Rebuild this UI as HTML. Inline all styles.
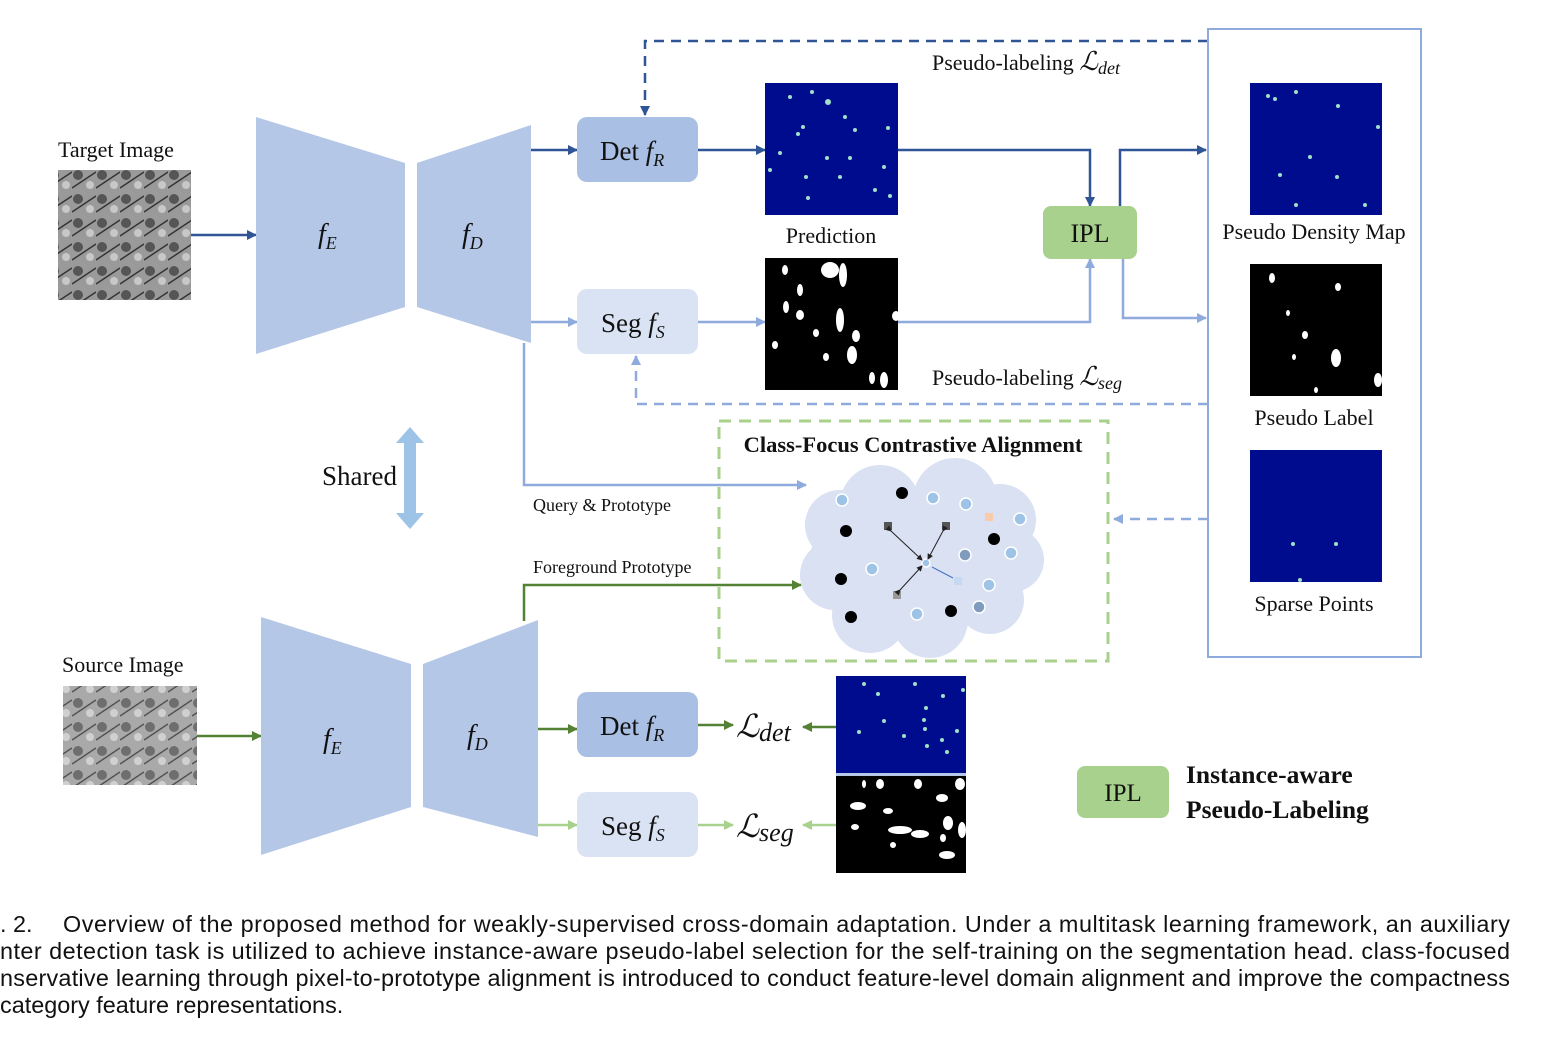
<!DOCTYPE html>
<html><head><meta charset="utf-8"><style>
html,body{margin:0;padding:0;background:#fff;}
svg{display:block;}
.t{font-family:"Liberation Serif",serif;fill:#111;}
.c{font-family:"Liberation Sans",sans-serif;font-size:23.4px;fill:#111;}
</style></head><body>
<svg width="1562" height="1051" viewBox="0 0 1562 1051" xmlns="http://www.w3.org/2000/svg">
<defs>
<marker id="ad" markerWidth="10" markerHeight="10" refX="9" refY="5" orient="auto" markerUnits="userSpaceOnUse"><path d="M0,0 L10,5 L0,10 z" fill="#2f5597"/></marker>
<marker id="al" markerWidth="10" markerHeight="10" refX="9" refY="5" orient="auto" markerUnits="userSpaceOnUse"><path d="M0,0 L10,5 L0,10 z" fill="#8faadc"/></marker>
<marker id="ag" markerWidth="10" markerHeight="10" refX="9" refY="5" orient="auto" markerUnits="userSpaceOnUse"><path d="M0,0 L10,5 L0,10 z" fill="#548235"/></marker>
<marker id="alg" markerWidth="10" markerHeight="10" refX="9" refY="5" orient="auto" markerUnits="userSpaceOnUse"><path d="M0,0 L10,5 L0,10 z" fill="#a9d18e"/></marker>
<marker id="ak" markerWidth="6" markerHeight="6" refX="5" refY="3" orient="auto" markerUnits="userSpaceOnUse"><path d="M0,0 L6,3 L0,6 z" fill="#222"/></marker>
<pattern id="em" width="24" height="24" patternUnits="userSpaceOnUse">
<rect width="24" height="24" fill="#9a9a9a"/><circle cx="6" cy="7" r="5" fill="#555"/><circle cx="18" cy="17" r="4" fill="#c8c8c8"/><path d="M0,20 L24,4" stroke="#333" stroke-width="1.5"/>
</pattern>
</defs>

<text class="t" x="58" y="157" font-size="22">Target Image</text>
<rect x="58" y="170" width="133" height="130" fill="url(#em)"/>
<line x1="191" y1="235" x2="256" y2="235" stroke="#2f5597" stroke-width="2.5" marker-end="url(#ad)"/>

<polygon points="256,117 405,163 405,307 256,354" fill="#b4c7e7"/>
<polygon points="417,163 531,125 531,343 417,307" fill="#b4c7e7"/>
<text class="t" x="318" y="243" font-size="28" font-style="italic">f<tspan font-size="18" dy="6">E</tspan></text>
<text class="t" x="462" y="243" font-size="28" font-style="italic">f<tspan font-size="18" dy="6">D</tspan></text>

<line x1="531" y1="150" x2="577" y2="150" stroke="#2f5597" stroke-width="2.5" marker-end="url(#ad)"/>
<line x1="531" y1="322" x2="577" y2="322" stroke="#8faadc" stroke-width="2.5" marker-end="url(#al)"/>
<rect x="577" y="117" width="121" height="65" rx="10" fill="#a9c0e4"/>
<rect x="577" y="289" width="121" height="65" rx="10" fill="#dae3f3"/>
<text class="t" x="600" y="160" font-size="27">Det <tspan font-style="italic">f</tspan><tspan font-style="italic" font-size="18" dy="6">R</tspan></text>
<text class="t" x="601" y="332" font-size="27">Seg <tspan font-style="italic">f</tspan><tspan font-style="italic" font-size="18" dy="6">S</tspan></text>

<line x1="698" y1="150" x2="765" y2="150" stroke="#2f5597" stroke-width="2.5" marker-end="url(#ad)"/>
<line x1="698" y1="322" x2="765" y2="322" stroke="#8faadc" stroke-width="2.5" marker-end="url(#al)"/>

<rect x="765" y="83" width="133" height="132" fill="#000c8e"/>
<g fill="#9ee0c8">
<circle cx="790" cy="97" r="2"/><circle cx="812" cy="92" r="2"/><circle cx="828" cy="102" r="3"/><circle cx="845" cy="117" r="2"/><circle cx="803" cy="127" r="2"/><circle cx="798" cy="134" r="2"/><circle cx="780" cy="153" r="2"/><circle cx="827" cy="158" r="2"/><circle cx="850" cy="158" r="2"/><circle cx="806" cy="177" r="2"/><circle cx="840" cy="177" r="2"/><circle cx="884" cy="167" r="2"/><circle cx="875" cy="190" r="2"/><circle cx="890" cy="196" r="2"/><circle cx="808" cy="198" r="2"/><circle cx="770" cy="170" r="2"/><circle cx="888" cy="128" r="2"/><circle cx="855" cy="130" r="2"/>
</g>
<text class="t" x="831" y="243" font-size="22" text-anchor="middle">Prediction</text>
<rect x="765" y="258" width="133" height="132" fill="#000"/>
<g fill="#fff">
<ellipse cx="785" cy="270" rx="3" ry="5"/><ellipse cx="800" cy="290" rx="3" ry="6"/><ellipse cx="830" cy="270" rx="9" ry="8"/><ellipse cx="843" cy="275" rx="4" ry="12"/><ellipse cx="786" cy="307" rx="3" ry="6"/><ellipse cx="800" cy="315" rx="4" ry="5"/><ellipse cx="840" cy="320" rx="4" ry="12"/><ellipse cx="856" cy="336" rx="4" ry="6"/><ellipse cx="852" cy="355" rx="5" ry="9"/><ellipse cx="775" cy="345" rx="3" ry="4"/><ellipse cx="884" cy="380" rx="4" ry="8"/><ellipse cx="872" cy="378" rx="3" ry="6"/><ellipse cx="896" cy="316" rx="4" ry="5"/><ellipse cx="826" cy="357" rx="3" ry="4"/><ellipse cx="816" cy="333" rx="3" ry="4"/>
</g>

<polyline points="898,150 1090,150 1090,206" fill="none" stroke="#2f5597" stroke-width="2.5" marker-end="url(#ad)"/>
<polyline points="898,322 1090,322 1090,259" fill="none" stroke="#8faadc" stroke-width="2.5" marker-end="url(#al)"/>
<rect x="1043" y="206" width="94" height="53" rx="8" fill="#a9d18e"/>
<text class="t" x="1090" y="242" font-size="26" text-anchor="middle">IPL</text>
<polyline points="1120,206 1120,150 1206,150" fill="none" stroke="#2f5597" stroke-width="2.5" marker-end="url(#ad)"/>
<polyline points="1123,259 1123,318 1206,318" fill="none" stroke="#8faadc" stroke-width="2.5" marker-end="url(#al)"/>

<polyline points="1208,41 645,41 645,115" fill="none" stroke="#2f5597" stroke-width="2.5" stroke-dasharray="10,7" marker-end="url(#ad)"/>
<text class="t" x="932" y="70" font-size="22">Pseudo-labeling <tspan font-style="italic" font-size="26">ℒ</tspan><tspan font-style="italic" font-size="18" dy="4">det</tspan></text>
<polyline points="1208,404 636,404 636,356" fill="none" stroke="#8faadc" stroke-width="2.5" stroke-dasharray="10,7" marker-end="url(#al)"/>
<text class="t" x="932" y="385" font-size="22">Pseudo-labeling <tspan font-style="italic" font-size="26">ℒ</tspan><tspan font-style="italic" font-size="18" dy="4">seg</tspan></text>

<rect x="1208" y="29" width="213" height="628" fill="none" stroke="#8faadc" stroke-width="2"/>
<rect x="1250" y="83" width="132" height="132" fill="#000c8e"/>
<g fill="#9ee0c8"><circle cx="1268" cy="96" r="2"/><circle cx="1275" cy="99" r="2"/><circle cx="1296" cy="92" r="2"/><circle cx="1338" cy="106" r="2"/><circle cx="1378" cy="127" r="2"/><circle cx="1310" cy="157" r="2"/><circle cx="1280" cy="175" r="2"/><circle cx="1337" cy="177" r="2"/><circle cx="1296" cy="205" r="2"/><circle cx="1365" cy="205" r="2"/></g>
<text class="t" x="1314" y="239" font-size="22" text-anchor="middle">Pseudo Density Map</text>
<rect x="1250" y="264" width="132" height="132" fill="#000"/>
<g fill="#fff"><ellipse cx="1272" cy="278" rx="3" ry="5"/><ellipse cx="1338" cy="287" rx="3" ry="4"/><ellipse cx="1288" cy="313" rx="2" ry="3"/><ellipse cx="1305" cy="335" rx="3" ry="4"/><ellipse cx="1336" cy="358" rx="5" ry="9"/><ellipse cx="1294" cy="357" rx="2" ry="3"/><ellipse cx="1378" cy="380" rx="4" ry="7"/><ellipse cx="1316" cy="390" rx="2" ry="3"/></g>
<text class="t" x="1314" y="425" font-size="22" text-anchor="middle">Pseudo Label</text>
<rect x="1250" y="450" width="132" height="132" fill="#000c8e"/>
<g fill="#9ee0c8"><circle cx="1293" cy="544" r="2"/><circle cx="1336" cy="544" r="2"/><circle cx="1300" cy="580" r="2"/></g>
<text class="t" x="1314" y="611" font-size="22" text-anchor="middle">Sparse Points</text>

<polygon points="410,427 424,443 416,443 416,513 424,513 410,529 396,513 404,513 404,443 396,443" fill="#9dc3e6"/>
<text class="t" x="322" y="485" font-size="27">Shared</text>

<polyline points="524,343 524,485 806,485" fill="none" stroke="#8faadc" stroke-width="2.5" marker-end="url(#al)"/>
<text class="t" x="533" y="511" font-size="18">Query &amp; Prototype</text>
<polyline points="524,621 524,585 801,585" fill="none" stroke="#548235" stroke-width="2.5" marker-end="url(#ag)"/>
<text class="t" x="533" y="573" font-size="18">Foreground Prototype</text>

<rect x="719" y="421" width="389" height="240" fill="none" stroke="#a9d18e" stroke-width="3" stroke-dasharray="12,8"/>
<text class="t" x="913" y="452" font-size="22.5" font-weight="bold" text-anchor="middle">Class-Focus Contrastive Alignment</text>
<line x1="1208" y1="519" x2="1114" y2="519" stroke="#8faadc" stroke-width="2.5" stroke-dasharray="10,7" marker-end="url(#al)"/>
<g fill="#d9e1f2">
<ellipse cx="920" cy="560" rx="110" ry="70"/><circle cx="880" cy="505" r="40"/><circle cx="955" cy="500" r="42"/><circle cx="1000" cy="520" r="36"/><circle cx="1012" cy="560" r="32"/><circle cx="990" cy="600" r="34"/><circle cx="930" cy="620" r="38"/><circle cx="870" cy="615" r="38"/><circle cx="835" cy="575" r="35"/><circle cx="840" cy="525" r="35"/>
</g>
<g fill="#000"><circle cx="902" cy="493" r="6"/><circle cx="846" cy="531" r="6"/><circle cx="994" cy="539" r="6"/><circle cx="841" cy="579" r="6"/><circle cx="851" cy="617" r="6"/><circle cx="951" cy="611" r="6"/></g>
<g fill="#9dc3e6" stroke="#fff" stroke-width="1.5"><circle cx="842" cy="500" r="6"/><circle cx="933" cy="498" r="6"/><circle cx="966" cy="504" r="6"/><circle cx="1020" cy="519" r="6"/><circle cx="1011" cy="553" r="6"/><circle cx="872" cy="569" r="6"/><circle cx="989" cy="585" r="6"/><circle cx="917" cy="614" r="6"/><circle cx="926" cy="563" r="4"/></g>
<g fill="#7f9bbd" stroke="#fff" stroke-width="1.5"><circle cx="965" cy="555" r="6"/><circle cx="979" cy="607" r="6"/></g>
<rect x="884" y="522" width="8" height="8" fill="#555"/><rect x="942" y="522" width="8" height="8" fill="#555"/><rect x="893" y="591" width="8" height="8" fill="#999"/><rect x="954" y="577" width="8" height="8" fill="#c5d9f0"/><rect x="985" y="513" width="8" height="8" fill="#f8cbad"/>
<g stroke="#222" stroke-width="1"><line x1="891" y1="531" x2="922" y2="560" marker-end="url(#ak)" marker-start="url(#ak)"/><line x1="943" y1="531" x2="928" y2="559" marker-end="url(#ak)" marker-start="url(#ak)"/><line x1="900" y1="590" x2="922" y2="566" marker-end="url(#ak)" marker-start="url(#ak)"/></g>
<line x1="953" y1="578" x2="932" y2="567" stroke="#4472c4" stroke-width="1"/>

<text class="t" x="62" y="672" font-size="22">Source Image</text>
<rect x="63" y="686" width="134" height="99" fill="url(#em)" opacity="0.85"/>
<line x1="197" y1="736" x2="261" y2="736" stroke="#548235" stroke-width="2.5" marker-end="url(#ag)"/>
<polygon points="261,617 411,664 411,807 261,855" fill="#b4c7e7"/>
<polygon points="423,664 538,620 538,837 423,807" fill="#b4c7e7"/>
<text class="t" x="323" y="748" font-size="28" font-style="italic">f<tspan font-size="18" dy="6">E</tspan></text>
<text class="t" x="467" y="744" font-size="28" font-style="italic">f<tspan font-size="18" dy="6">D</tspan></text>
<line x1="538" y1="729" x2="577" y2="729" stroke="#548235" stroke-width="2.5" marker-end="url(#ag)"/>
<line x1="538" y1="825" x2="577" y2="825" stroke="#a9d18e" stroke-width="2.5" marker-end="url(#alg)"/>
<rect x="577" y="692" width="121" height="65" rx="10" fill="#a9c0e4"/>
<rect x="577" y="792" width="121" height="65" rx="10" fill="#dae3f3"/>
<text class="t" x="600" y="735" font-size="27">Det <tspan font-style="italic">f</tspan><tspan font-style="italic" font-size="18" dy="6">R</tspan></text>
<text class="t" x="601" y="835" font-size="27">Seg <tspan font-style="italic">f</tspan><tspan font-style="italic" font-size="18" dy="6">S</tspan></text>
<line x1="698" y1="725" x2="733" y2="725" stroke="#548235" stroke-width="2.5" marker-end="url(#ag)"/>
<line x1="698" y1="825" x2="733" y2="825" stroke="#a9d18e" stroke-width="2.5" marker-end="url(#alg)"/>
<text class="t" x="736" y="737" font-size="32" font-style="italic">ℒ<tspan font-size="26" dy="4">det</tspan></text>
<text class="t" x="736" y="837" font-size="32" font-style="italic">ℒ<tspan font-size="26" dy="4">seg</tspan></text>
<line x1="836" y1="727" x2="803" y2="727" stroke="#548235" stroke-width="2.5" marker-end="url(#ag)"/>
<line x1="836" y1="825" x2="803" y2="825" stroke="#a9d18e" stroke-width="2.5" marker-end="url(#alg)"/>
<rect x="836" y="676" width="130" height="97" fill="#000c8e"/>
<rect x="836" y="773" width="130" height="3" fill="#b4c7e7"/>
<g fill="#9ee0c8"><circle cx="864" cy="684" r="2"/><circle cx="878" cy="694" r="2"/><circle cx="915" cy="684" r="2"/><circle cx="943" cy="696" r="2"/><circle cx="926" cy="708" r="2"/><circle cx="884" cy="721" r="2"/><circle cx="924" cy="720" r="2"/><circle cx="859" cy="732" r="2"/><circle cx="925" cy="729" r="2"/><circle cx="904" cy="736" r="2"/><circle cx="927" cy="746" r="2"/><circle cx="942" cy="740" r="2"/><circle cx="957" cy="731" r="2"/><circle cx="947" cy="752" r="2"/><circle cx="963" cy="690" r="2"/></g>
<rect x="836" y="776" width="130" height="97" fill="#000"/>
<g fill="#fff"><ellipse cx="864" cy="784" rx="2" ry="4"/><ellipse cx="880" cy="784" rx="4" ry="5"/><ellipse cx="918" cy="784" rx="4" ry="5"/><ellipse cx="960" cy="784" rx="5" ry="6"/><ellipse cx="942" cy="798" rx="6" ry="4"/><ellipse cx="858" cy="806" rx="8" ry="4"/><ellipse cx="888" cy="811" rx="5" ry="3"/><ellipse cx="948" cy="823" rx="5" ry="7"/><ellipse cx="855" cy="827" rx="4" ry="3"/><ellipse cx="900" cy="830" rx="12" ry="4"/><ellipse cx="920" cy="834" rx="9" ry="4"/><ellipse cx="962" cy="830" rx="4" ry="8"/><ellipse cx="893" cy="845" rx="3" ry="3"/><ellipse cx="947" cy="855" rx="8" ry="4"/><ellipse cx="943" cy="838" rx="3" ry="4"/></g>

<rect x="1077" y="766" width="92" height="52" rx="8" fill="#a9d18e"/>
<text class="t" x="1123" y="801" font-size="25" text-anchor="middle">IPL</text>
<text class="t" x="1186" y="783" font-size="25.5" font-weight="bold">Instance-aware</text>
<text class="t" x="1186" y="818" font-size="25.5" font-weight="bold">Pseudo-Labeling</text>

<text class="c" x="0" y="932">. 2.</text>
<text class="c" x="63" y="932" textLength="1447" lengthAdjust="spacing">Overview of the proposed method for weakly-supervised cross-domain adaptation. Under a multitask learning framework, an auxiliary</text>
<text class="c" x="0" y="959" textLength="1510" lengthAdjust="spacing">nter detection task is utilized to achieve instance-aware pseudo-label selection for the self-training on the segmentation head. class-focused</text>
<text class="c" x="0" y="986" textLength="1510" lengthAdjust="spacing">nservative learning through pixel-to-prototype alignment is introduced to conduct feature-level domain alignment and improve the compactness</text>
<text class="c" x="0" y="1013">category feature representations.</text>
</svg>
</body></html>
